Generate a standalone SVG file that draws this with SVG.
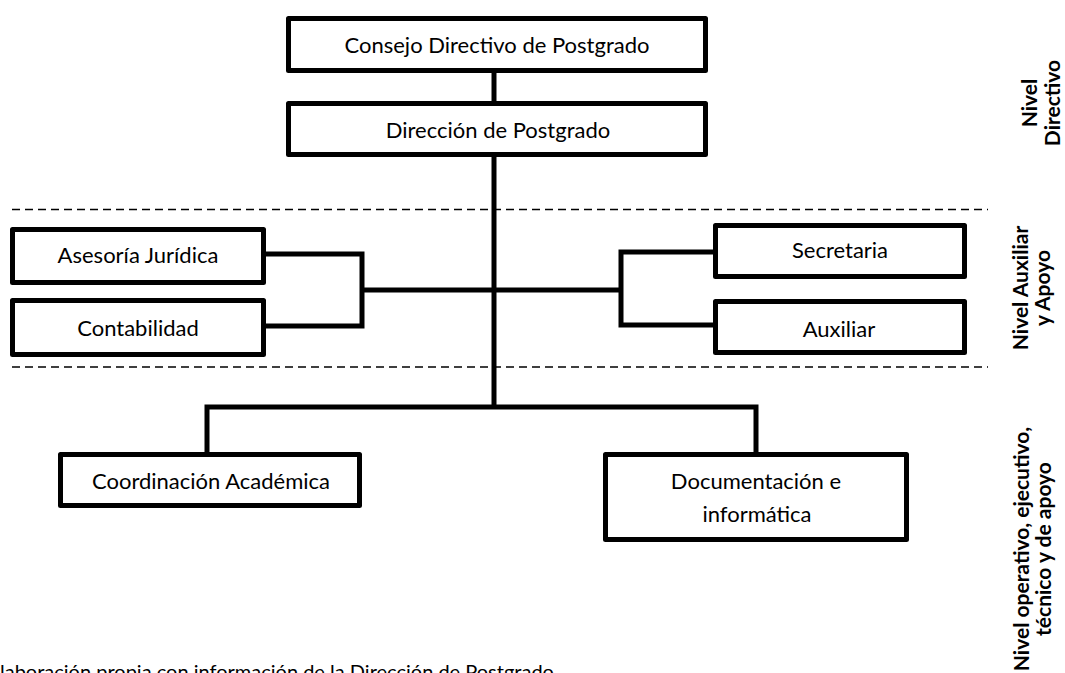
<svg xmlns="http://www.w3.org/2000/svg" width="1065" height="673" viewBox="0 0 1065 673">
<style>
.box{fill:#fff;stroke:#000;stroke-width:5;stroke-linejoin:round}
.ln{fill:none;stroke:#000;stroke-width:5;stroke-linejoin:miter}
.dash{fill:none;stroke:#000;stroke-width:1.3;stroke-dasharray:8 5}
.t{font-family:Lato,"Liberation Sans",sans-serif;font-size:22px;fill:#000;text-anchor:middle}
.lab{font-family:Lato,"Liberation Sans",sans-serif;font-size:21px;font-weight:bold;fill:#000;text-anchor:middle}
.src{font-family:Lato,"Liberation Sans",sans-serif;font-size:20px;fill:#000}
</style>
<rect width="1065" height="673" fill="#fff"/>
<g id="guides">
<line class="dash" x1="12" y1="209.5" x2="988" y2="209.5"/>
<line class="dash" x1="12" y1="367" x2="988" y2="367"/>
</g>
<g id="connectors">
<line class="ln" x1="494" y1="73" x2="494" y2="103"/>
<line class="ln" x1="494" y1="157" x2="494" y2="407"/>
<path class="ln" d="M266,254 H362 V326 H266"/>
<path class="ln" d="M362,290 H621"/>
<path class="ln" d="M713,252 H621 V325 H713"/>
<path class="ln" d="M207,452 V407 H756 V452"/>
</g>
<g id="consejo"><rect class="box" x="288.5" y="18.5" width="417" height="52"/><text class="t" x="497" y="53">Consejo Directivo de Postgrado</text></g>
<g id="direccion"><rect class="box" x="288.5" y="103.5" width="417" height="51"/><text class="t" x="498" y="138">Dirección de Postgrado</text></g>
<g id="asesoria"><rect class="box" x="12.5" y="229.5" width="251" height="53"/><text class="t" x="138" y="263">Asesoría Jurídica</text></g>
<g id="contabilidad"><rect class="box" x="12.5" y="300.5" width="251" height="54"/><text class="t" x="138" y="336">Contabilidad</text></g>
<g id="secretaria"><rect class="box" x="715.5" y="225.5" width="249" height="51"/><text class="t" x="840" y="258">Secretaria</text></g>
<g id="auxiliar"><rect class="box" x="715.5" y="301.5" width="249" height="51"/><text class="t" x="839" y="337">Auxiliar</text></g>
<g id="coordinacion"><rect class="box" x="60.5" y="454.5" width="299" height="51"/><text class="t" x="211" y="489">Coordinación Académica</text></g>
<g id="documentacion"><rect class="box" x="605.5" y="454.5" width="301" height="85"/><text class="t" x="756" y="489">Documentación e</text><text class="t" x="757" y="522">informática</text></g>
<g id="levels">
<text class="lab" transform="translate(1037,103) rotate(-90)">Nivel</text>
<text class="lab" transform="translate(1060,103) rotate(-90)">Directivo</text>
<text class="lab" transform="translate(1028,288) rotate(-90)">Nivel Auxiliar</text>
<text class="lab" transform="translate(1050,288) rotate(-90)">y Apoyo</text>
<text class="lab" transform="translate(1029,549) rotate(-90)">Nivel operativo, ejecutivo,</text>
<text class="lab" transform="translate(1051,549) rotate(-90)">técnico y de apoyo</text>
</g>
<text class="src" x="0" y="679">laboración propia con información de la Dirección de Postgrado</text>
</svg>
